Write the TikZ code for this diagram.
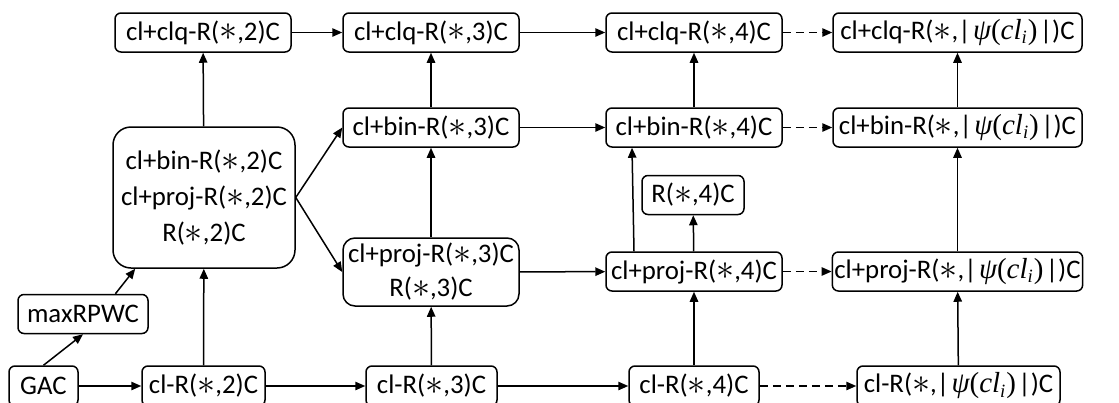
\documentclass[tikz,border=0pt]{standalone}
\usepackage{fontspec}
\setmainfont{Carlito}
\newfontfamily\tms{Liberation Serif}
\usepackage{graphicx}
\usepackage{tikz}
\usetikzlibrary{arrows.meta,positioning}
\newcommand{\lcpsi}{|\kern1.2pt{\tms\fontsize{14.5}{16}\selectfont\itshape ψ}{\tms\fontsize{14.5}{16}\selectfont(}{\tms\fontsize{14.5}{16}\selectfont\itshape cl}\textsubscript{\tms\itshape i}{\tms\fontsize{14.5}{16}\selectfont)}\kern1.2pt|}
\newcommand{\lcst}{\raisebox{-0.3pt}{\scalebox{1.25}{$\ast$}}}
\tikzset{
  lcbox/.style={draw,line width=0.75pt,rounded corners=3pt,inner sep=1pt,
                minimum height=19.5pt,font=\fontsize{13.4}{16}\selectfont},
  lcbig/.style={lcbox,rounded corners=9pt,align=center,
                font=\fontsize{13.4}{18}\selectfont},
  lcarrow/.style={-{Triangle[length=5pt,width=4.2pt]},line width=0.75pt},
  lcdash/.style={lcarrow,dash pattern=on 4pt off 2.5pt}
}

\begin{document}
\begin{tikzpicture}[x=0.5pt,y=-0.5pt]
    \useasboundingbox (0,0) rectangle (1119,402);
    % top row
    \node[lcbox,minimum width=88pt] (clqA) at (203,32.5) {cl+clq-R(\lcst,2)C};
    \node[lcbox,minimum width=88pt] (clqB) at (431,32.5) {cl+clq-R(\lcst,3)C};
    \node[lcbox,minimum width=88pt] (clqC) at (694,32.5) {cl+clq-R(\lcst,4)C};
    \node[lcbox,minimum width=124.5pt] (clqD) at (957.5,32.5)
      {cl+clq-R(\lcst,\lcpsi)C};
    % bin row
    \node[lcbox,minimum width=88pt] (binB) at (431,127.5) {cl+bin-R(\lcst,3)C};
    \node[lcbox,minimum width=88pt] (binC) at (694,127.5) {cl+bin-R(\lcst,4)C};
    \node[lcbox,minimum width=124.5pt] (binD) at (957.5,127.5)
      {cl+bin-R(\lcst,\lcpsi)C};
    % merged boxes
    \node[lcbig,minimum width=91pt,minimum height=70.5pt] (big) at (204,197.5)
      {cl+bin-R(\lcst,2)C\\cl+proj-R(\lcst,2)C\\R(\lcst,2)C};
    \node[lcbig,rounded corners=6pt,minimum width=88pt,minimum height=34pt,
          font=\fontsize{13.4}{17}\selectfont] (projB) at (431,272)
      {cl+proj-R(\lcst,3)C\\R(\lcst,3)C};
    \node[lcbox,minimum width=51pt] (rfour) at (693,195) {R(\lcst,4)C};
    % proj row
    \node[lcbox,minimum width=88pt] (projC) at (694,271.5) {cl+proj-R(\lcst,4)C};
    \node[lcbox,minimum width=124.5pt] (projD) at (957.5,271.5)
      {cl+proj-R(\lcst,\lcpsi)C};
    \node[lcbox,minimum width=65pt] (maxr) at (83,314) {maxRPWC};
    % bottom row
    \node[lcbox,minimum width=34.5pt,minimum height=20pt] (gac) at (43.5,386) {GAC};
    \node[lcbox,minimum width=61.5pt,minimum height=20pt] (clA) at (203.5,386) {cl-R(\lcst,2)C};
    \node[lcbox,minimum width=65.5pt,minimum height=20pt] (clB) at (431.5,386) {cl-R(\lcst,3)C};
    \node[lcbox,minimum width=65pt,minimum height=20pt] (clC) at (694,386) {cl-R(\lcst,4)C};
    \node[lcbox,minimum width=101.5pt,minimum height=20pt] (clD) at (958.5,386)
      {cl-R(\lcst,\lcpsi)C};

    % horizontal links
    \draw[lcarrow] (clqA) -- (clqB);
    \draw[lcarrow] (clqB) -- (clqC);
    \draw[lcdash] (clqC) -- (clqD);
    \draw[lcarrow] (binB) -- (binC);
    \draw[lcdash] (binC) -- (binD);
    \draw[lcarrow] (projB) -- (projC);
    \draw[lcdash] (projC) -- (projD);
    \draw[lcarrow] (gac) -- (clA);
    \draw[lcarrow] (clA) -- (clB);
    \draw[lcarrow] (clB) -- (clC);
    \draw[lcdash] (clC) -- (clD);

    % vertical links
    \draw[lcarrow] (big) -- (clqA);
    \draw[lcarrow] (clA) -- (big);
    \draw[lcarrow] (binB) -- (clqB);
    \draw[lcarrow] (projB) -- (binB);
    \draw[lcarrow] (clB) -- (projB);
    \draw[lcarrow] (binC) -- (clqC);
    \draw[lcarrow] (projC) -- (rfour);
    \draw[lcarrow] ([xshift=-30pt]projC.north) -- ([xshift=-31pt]binC.south);
    \draw[lcarrow] (clC) -- (projC);
    \draw[lcarrow] (binD) -- (clqD);
    \draw[lcarrow] (projD) -- (binD);
    \draw[lcarrow] (clD) -- (projD);

    % diagonal links
    \draw[lcarrow] (big.east) -- (binB.west);
    \draw[lcarrow] (big.east) -- (projB.west);
    \draw[lcarrow] (gac.north) -- (maxr.south);
    \draw[lcarrow] (maxr.32) -- (big.226);
  \end{tikzpicture}
\end{document}
